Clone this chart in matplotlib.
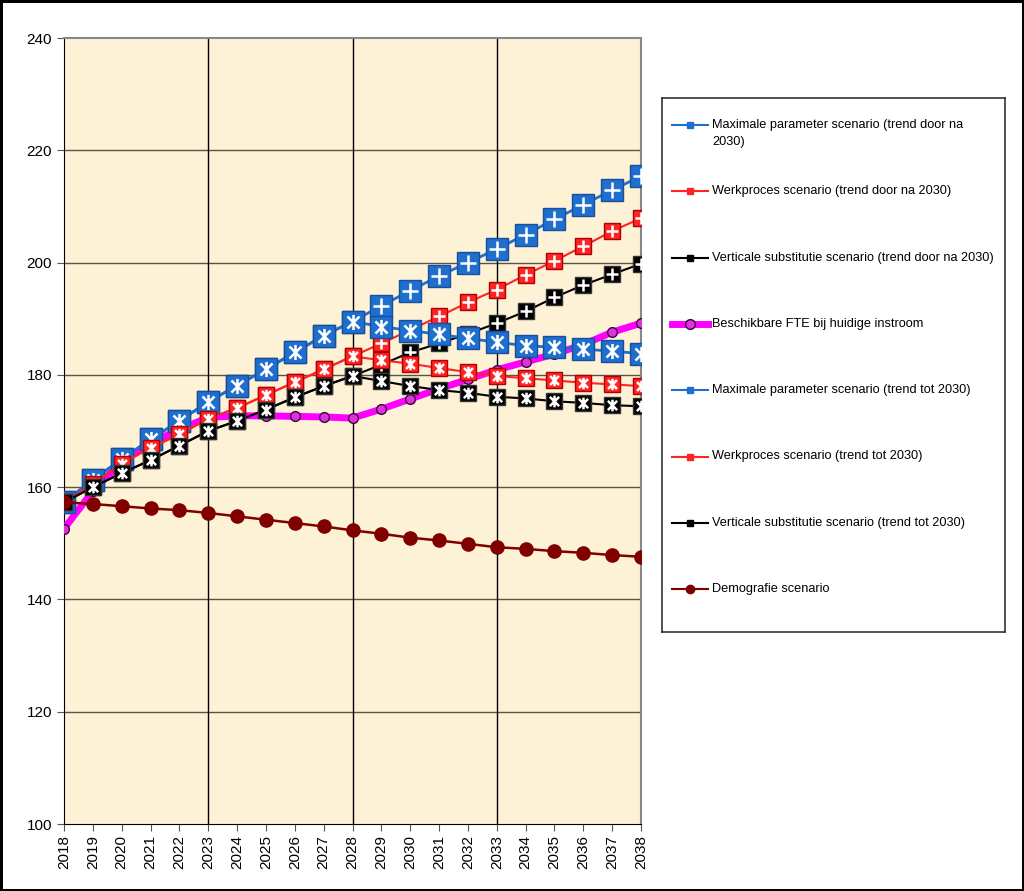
import numpy as np
import matplotlib
matplotlib.use('Agg')
import matplotlib.pyplot as plt
from matplotlib.path import Path

plt.rcParams['font.family'] = ['Liberation Sans Narrow', 'Liberation Sans', 'DejaVu Sans']

years = list(range(2018, 2039))

# trend door na 2030
max_door = [157.3, 161.3, 165.0, 168.5, 171.8, 175.2, 178.1, 181.0, 184.0, 187.0, 189.5,
            192.3, 195.0, 197.6, 200.0, 202.4, 205.0, 207.7, 210.3, 212.9, 215.4]
werk_door = [157.3, 160.5, 164.2, 167.0, 169.4, 172.2, 174.1, 176.4, 178.7, 181.0, 183.3,
             185.6, 188.0, 190.4, 192.9, 195.2, 197.8, 200.3, 202.9, 205.6, 207.9]
vert_door = [157.3, 160.0, 162.5, 164.8, 167.4, 170.0, 171.8, 173.8, 176.0, 178.0, 179.8,
             181.8, 184.0, 185.6, 187.3, 189.2, 191.3, 193.8, 196.0, 197.9, 199.8]

fte = [152.6, 159.3, 164.5, 167.8, 170.3, 172.4, 172.7, 172.7, 172.6, 172.5, 172.3,
       173.9, 175.7, 177.5, 179.2, 180.9, 182.3, 183.7, 185.4, 187.6, 189.2]

# trend tot 2030
max_tot = max_door[:11] + [188.6, 187.9, 187.2, 186.5, 185.8, 185.2, 184.9, 184.6, 184.2, 183.8]
werk_tot = werk_door[:11] + [182.6, 182.0, 181.2, 180.5, 179.8, 179.4, 179.0, 178.6, 178.3, 178.0]
vert_tot = vert_door[:11] + [178.9, 178.0, 177.3, 176.8, 176.1, 175.8, 175.3, 175.0, 174.6, 174.4]

demografie = [157.3, 157.0, 156.6, 156.2, 155.9, 155.4, 154.8, 154.2, 153.6, 153.0, 152.3,
              151.7, 151.0, 150.5, 149.9, 149.3, 149.0, 148.6, 148.3, 147.9, 147.6]

labels = ['Maximale parameter scenario (trend door na\n2030)',
          'Werkproces scenario (trend door na 2030)',
          'Verticale substitutie scenario (trend door na 2030)',
          'Beschikbare FTE bij huidige instroom',
          'Maximale parameter scenario (trend tot 2030)',
          'Werkproces scenario (trend tot 2030)',
          'Verticale substitutie scenario (trend tot 2030)',
          'Demografie scenario']

blauw = '#1F6FCF'
rood = '#FF2424'
zwart = '#000000'
magenta = '#FF00FF'
bruin = '#800000'

# X with a vertical stroke, as in the excel markers
xstar = Path([(-1, -1), (1, 1), (-1, 1), (1, -1), (0, -1.25), (0, 1.25)],
             [Path.MOVETO, Path.LINETO, Path.MOVETO, Path.LINETO, Path.MOVETO, Path.LINETO])

fig = plt.figure(figsize=(10.24, 8.91), dpi=100)
fig.patch.set_edgecolor('black')
fig.patch.set_linewidth(2.5)
ax = fig.add_axes([64/1024, 1-824/891, (641-64)/1024, (824-38)/891])
ax.set_facecolor('#FDF1D6')

def reeks(y, kleur, rand, ms, lw, teken):
    ax.plot(years, y, color=kleur, lw=lw, marker='s', ms=ms, mfc=kleur, mec=rand, mew=1, zorder=3)
    ax.plot(years, y, ls='none', marker=teken, ms=ms*0.7, mec='white', mew=1.8, zorder=3)

reeks(max_door, blauw, '#174F9A', 15.5, 2, '+')
reeks(werk_door, rood, '#B00000', 11.5, 1.5, '+')
reeks(vert_door, zwart, '#333333', 12, 1.5, '+')
ax.plot(years, fte, color=magenta, lw=5, marker='o', ms=7, mfc='#DD33DD', mec='#400040', mew=1, zorder=3)
reeks(max_tot, blauw, '#174F9A', 15.5, 2, xstar)
reeks(werk_tot, rood, '#B00000', 11.5, 1.5, xstar)
reeks(vert_tot, zwart, '#333333', 12, 1.5, xstar)
ax.plot(years, demografie, color=bruin, lw=1.8, marker='o', ms=9.5, mfc=bruin, mec=bruin, zorder=4)

ax.set_xlim(2018, 2038)
ax.set_ylim(100, 240)
ax.set_xticks(years)
ax.set_xticklabels([str(j) for j in years], rotation=90, fontsize=11)
ax.set_yticks(range(100, 241, 20))
ax.tick_params(axis='y', labelsize=11, length=5, color='#555555')
ax.tick_params(axis='x', length=5, color='#555555', pad=3)

for g in range(120, 240, 20):
    ax.axhline(g, color='#5A5246', lw=1, zorder=1)
for j in [2023, 2028, 2033]:
    ax.axvline(j, color='black', lw=1, zorder=1)

ax.spines['top'].set_color('#888888')
ax.spines['right'].set_color('#888888')
ax.spines['top'].set_linewidth(1.5)
ax.spines['right'].set_linewidth(1.5)
ax.spines['left'].set_color('black')
ax.spines['bottom'].set_color('black')

# legend box, drawn in its own axes with pixel coordinates
lg = fig.add_axes([662/1024, 1-632/891, (1005-662)/1024, (632-98)/891])
lg.set_xlim(662, 1005)
lg.set_ylim(632, 98)
lg.set_xticks([])
lg.set_yticks([])
for s in lg.spines.values():
    s.set_color('#333333')
    s.set_linewidth(1.2)

stijlen = [(blauw, 1.5, 's', 5, blauw, blauw),
           (rood, 1.5, 's', 5, rood, rood),
           (zwart, 1.5, 's', 5, zwart, zwart),
           (magenta, 5, 'o', 7, '#DD33DD', '#400040'),
           (blauw, 1.5, 's', 5, blauw, blauw),
           (rood, 1.5, 's', 5, rood, rood),
           (zwart, 1.5, 's', 5, zwart, zwart),
           (bruin, 1.5, 'o', 6, bruin, bruin)]

for i, (lab, st) in enumerate(zip(labels, stijlen)):
    yc = 125 + i * 66.3
    kleur, lw, mk, ms, mfc, mec = st
    lg.plot([672, 708], [yc, yc], color=kleur, lw=lw)
    lg.plot([690], [yc], marker=mk, ms=ms, mfc=mfc, mec=mec, color=kleur)
    lg.text(712, yc - 6, lab, fontsize=9.2, va='top', ha='left', linespacing=1.5)

fig.savefig('out.png', dpi=100)
